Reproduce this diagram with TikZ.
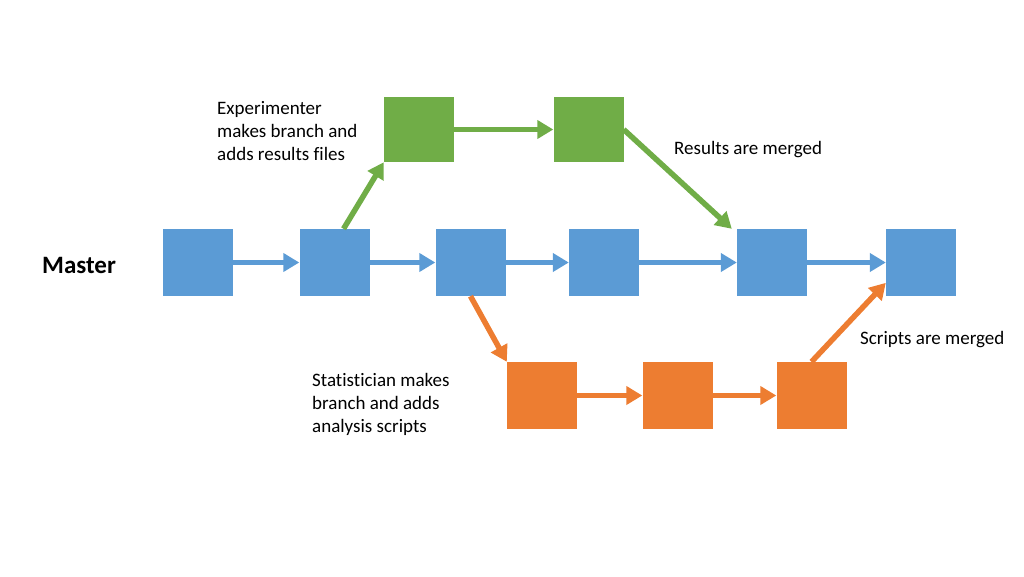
\documentclass[tikz,border=0pt]{standalone}
\usepackage{fontspec}
\setmainfont{Carlito}[Ligatures=NoCommon]
\usetikzlibrary{arrows.meta}
\definecolor{masterblue}{HTML}{5B9BD5}
\definecolor{expgreen}{HTML}{70AD47}
\definecolor{statorange}{HTML}{ED7D31}
\begin{document}
\begin{tikzpicture}[x=1pt, y=-1pt,
    commit/.style={rectangle, minimum width=70pt, minimum height=67pt, inner sep=0pt},
    link/.style={line width=5.5pt, -{Triangle[length=16pt, width=18pt]}},
    note/.style={font=\fontsize{19}{23}\selectfont, align=left, anchor=west, inner sep=0pt}]
    \useasboundingbox (0,0) rectangle (1024,576);

    % Master branch
    \node[font=\fontsize{25}{30}\selectfont\bfseries, anchor=west, inner sep=0pt] (master) at (42,265) {Master};
    \node[commit, fill=masterblue] (b1) at (198,262.5) {};
    \node[commit, fill=masterblue] (b2) at (334.5,262.5) {};
    \node[commit, fill=masterblue] (b3) at (470.5,262.5) {};
    \node[commit, fill=masterblue] (b4) at (604,262.5) {};
    \node[commit, fill=masterblue] (b5) at (772,262.5) {};
    \node[commit, fill=masterblue] (b6) at (921,262.5) {};
    \draw[link, masterblue] (b1) -- (b2);
    \draw[link, masterblue] (b2) -- (b3);
    \draw[link, masterblue] (b3) -- (b4);
    \draw[link, masterblue] (b4) -- (b5);
    \draw[link, masterblue] (b5) -- (b6);

    % Experimenter branch
    \node[commit, fill=expgreen, minimum height=65pt] (g1) at (419,129.5) {};
    \node[commit, fill=expgreen, minimum height=65pt] (g2) at (588.5,129.5) {};
    \draw[link, expgreen] (b2.75) -- (g1.south west);
    \draw[link, expgreen] (g1) -- (g2);
    \draw[link, expgreen] (g2.east) -- ([xshift=-5pt]b5.north west);

    % Statistician branch
    \node[commit, fill=statorange] (o1) at (542,395.5) {};
    \node[commit, fill=statorange] (o2) at (677.5,395.5) {};
    \node[commit, fill=statorange] (o3) at (811.5,395.5) {};
    \draw[link, statorange] (b3.south) -- (o1.north west);
    \draw[link, statorange] (o1) -- (o2);
    \draw[link, statorange] (o2) -- (o3);
    \draw[link, statorange] (o3.north) -- (b6.210);

    % Labels
    \node[note] (explabel) at (217,131) {Experimenter\\makes branch and\\adds results files};
    \node[note] (resmerged) at (674,150) {Results are merged};
    \node[note] (statlabel) at (312,404) {Statistician makes\\branch and adds\\analysis scripts};
    \node[note] (scrmerged) at (860,340) {Scripts are merged};
\end{tikzpicture}
\end{document}
